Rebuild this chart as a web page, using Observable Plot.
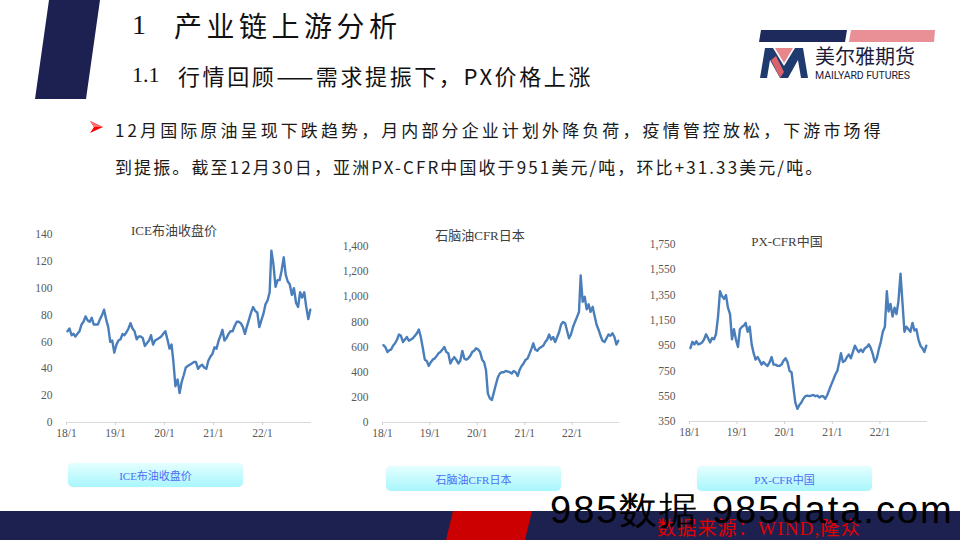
<!DOCTYPE html>
<html><head><meta charset="utf-8">
<script src="https://cdn.jsdelivr.net/npm/d3@7"></script>
<script src="https://cdn.jsdelivr.net/npm/@observablehq/plot@0.6"></script>
<style>
html,body{margin:0;padding:0;background:#fff;}
#root{position:relative;width:960px;height:540px;overflow:hidden;background:#fff;font-family:'Noto Sans CJK SC',sans-serif;}
.abs{position:absolute;white-space:nowrap;}
.chart{position:absolute;}
.ctitle{position:absolute;white-space:nowrap;transform:translate(-50%,-50%);font-family:'Liberation Serif','Noto Sans CJK SC',serif;font-size:13px;line-height:13px;color:#404040;}
.btn{position:absolute;border-radius:5px;background:linear-gradient(#e4ffff,#a8f6fc);box-shadow:0 0 1px rgba(0,0,0,0.15);display:flex;align-items:center;justify-content:center;font-family:'Liberation Serif','Noto Sans CJK SC',serif;font-size:11px;color:#4c6ef5;}
</style></head>
<body><div id="root">
<svg class="abs" style="left:0;top:0" width="960" height="540">
  <polygon points="49,0 100,0 86,99 35,99" fill="#1c2152"/>
  <polygon points="761,30 847,30 845,42 759,42" fill="#1f2a5c"/>
  <polygon points="851,30 935,30 934,42 849,42" fill="#e89096"/>
  <polygon points="760,78 765,48 773,48 784,66 795,48 803,48 808,78 801,78 798,60 788,78 780,78 770,60 767,78" fill="#1f3a6e"/>
  <polygon points="775,48 793,48 784,63" fill="#e8868c"/>
  <polygon points="771,60 776,56 784,72 780,78" fill="#d9626b"/>
  <polygon points="90,121 103,127 90,133 94,127" fill="#ff0000"/>
  <polygon points="90,121 103,127 94,127" fill="#ff7070"/>
  <rect x="0" y="511" width="960" height="29" fill="#1c2150"/>
  <polygon points="453,511 532,511 525,540 446,540" fill="#cc0000"/>
</svg>

<div class="abs" style="left:132px;top:11px;font-size:28px;line-height:28px;color:#111;font-family:'Liberation Serif','Noto Sans CJK SC',serif;">1</div>
<div class="abs" style="left:174px;top:11px;font-size:28px;line-height:28px;letter-spacing:4.5px;color:#111;">产业链上游分析</div>
<div class="abs" style="left:132px;top:64px;font-size:22px;line-height:22px;color:#111;font-family:'Liberation Serif','Noto Sans CJK SC',serif;">1.1</div>
<div class="abs" style="left:178px;top:64px;font-size:22px;line-height:22px;letter-spacing:2.6px;color:#111;">行情回顾——需求提振下，PX价格上涨</div>

<div class="abs" style="left:815px;top:46px;font-size:20px;line-height:20px;color:#1b1b3a;">美尔雅期货</div>
<div class="abs" style="left:815px;top:71px;font-size:10.5px;line-height:10.5px;color:#1b1b3a;font-family:Roboto,sans-serif;letter-spacing:-0.1px;">MAILYARD FUTURES</div>

<div class="abs" style="left:115px;top:121px;font-size:17px;line-height:17px;letter-spacing:3.1px;color:#1a1a1a;">12月国际原油呈现下跌趋势，月内部分企业计划外降负荷，疫情管控放松，下游市场得</div>
<div class="abs" style="left:115px;top:158px;font-size:17px;line-height:17px;letter-spacing:2.1px;color:#1a1a1a;">到提振。截至12月30日，亚洲PX-CFR中国收于951美元/吨，环比+31.33美元/吨。</div>

<div id="c1" class="chart" style="left:0px;top:210px;"></div>
<div id="c2" class="chart" style="left:320px;top:210px;"></div>
<div id="c3" class="chart" style="left:630px;top:210px;"></div>
<div class="ctitle" style="left:174px;top:230px;">ICE布油收盘价</div>
<div class="ctitle" style="left:480px;top:235px;">石脑油CFR日本</div>
<div class="ctitle" style="left:787px;top:241px;">PX-CFR中国</div>

<div class="btn" style="left:68px;top:463px;width:175px;height:24px;">ICE布油收盘价</div>
<div class="btn" style="left:386px;top:466px;width:175px;height:25px;">石脑油CFR日本</div>
<div class="btn" style="left:697px;top:466px;width:175px;height:25px;">PX-CFR中国</div>

<div class="abs" style="left:657px;top:519px;font-size:19px;line-height:19px;color:#e00000;font-family:'Liberation Serif','Noto Sans CJK SC',serif;letter-spacing:1.2px;">数据来源：WIND,隆众</div>
<div class="abs" style="left:550px;top:491px;font-size:38px;line-height:38px;color:#000;font-family:'Liberation Sans',sans-serif;letter-spacing:2px;">985数据 985data.com</div>
</div>
<script>
// ---- data (semi-monthly readings, 8th and 23rd of each month, 2018-2022) ----
const years = [2018, 2019, 2020, 2021, 2022];
const sampleDays = [8, 23];
const xTickLabels = ["18/1", "19/1", "20/1", "21/1", "22/1"];

const brent = [
  68,70,65,66,64,66,68,73,75,79,76,75,78,73,73,73,77,80,84,77,71,60,61,52,
  58,61,62,66,65,67,70,74,70,68,62,64,64,63,57,59,61,65,58,61,62,63,64,66,
  68,62,55,58,45,27,32,22,30,35,41,42,43,44,45,45,40,42,43,41,40,46,49,51,
  56,55,61,65,69,61,63,66,68,68,72,75,75,74,71,66,72,77,82,86,83,82,71,76,
  81,88,91,97,128,118,101,106,106,113,123,110,105,103,95,100,89,86,97,93,97,86,77,84
];
const naphtha = [
  615,600,560,575,580,610,630,660,700,690,640,660,680,650,660,670,690,710,740,680,590,500,490,450,
  480,500,510,530,550,560,580,600,560,550,470,500,520,500,470,490,570,510,500,510,530,560,570,590,
  580,560,500,480,420,230,190,180,240,300,360,390,400,400,410,405,400,390,410,400,370,420,450,470,
  500,510,550,590,630,580,570,590,600,610,640,660,700,660,680,640,680,720,780,800,790,730,670,700,
  760,800,840,880,1170,960,1000,900,940,880,920,850,780,740,690,650,640,670,700,690,710,680,620,650
];
const px = [
  930,980,960,985,960,965,975,1000,1040,1010,975,1010,1000,1040,1180,1380,1340,1320,1350,1250,1200,1000,1080,1000,
  940,1080,1100,1110,1130,1060,1100,960,890,840,860,830,800,820,800,790,820,860,800,800,790,790,800,830,
  850,820,750,740,620,500,450,480,500,530,550,555,550,555,560,550,555,540,550,550,530,560,600,640,
  680,720,750,820,890,820,830,860,880,850,900,950,920,900,920,900,930,940,960,930,880,820,850,920,
  980,1060,1100,1380,1220,1280,1180,1250,1200,1300,1520,1290,1060,1100,1080,1060,1130,1070,1080,1000,950,930,900,950
];
const brentTicks = [0, 20, 40, 60, 80, 100, 120, 140];
const naphthaTicks = [0, 200, 400, 600, 800, 1000, 1200, 1400];
const pxTicks = [350, 550, 750, 950, 1150, 1350, 1550, 1750];

const dates = years.flatMap(y => d3.range(12).flatMap(m => sampleDays.map(d => new Date(Date.UTC(y, m, d)))));
const xTickDates = years.map(y => new Date(Date.UTC(y, 0, 1)));
const xDomain = [new Date(Date.UTC(2018, 0, 1)), new Date(Date.UTC(2023, 0, 1))];
const xFmt = d => xTickLabels[xTickDates.findIndex(t => +t === +d)];

function makeChart(sel, values, yTicks, w, h, ml, mr, mt, mb) {
  const rows = values.map((v, i) => ({date: dates[i], value: v}));
  const yDomain = [yTicks[0], yTicks[yTicks.length - 1]];
  const fmt = d3.format(",");
  const p = Plot.plot({
    width: w, height: h,
    marginLeft: ml, marginRight: mr, marginTop: mt, marginBottom: mb,
    style: {fontFamily: "'Liberation Serif','Noto Sans CJK SC',serif", fontSize: "11.5px", background: "transparent", color: "#595959", overflow: "visible"},
    x: {type: "utc", domain: xDomain, label: null},
    y: {domain: yDomain, label: null},
    marks: [
      Plot.ruleY([yDomain[0]], {stroke: "#d9d9d9", strokeWidth: 1}),
      Plot.axisX(xTickDates, {tickFormat: xFmt, tickSize: 3, tickPadding: 3, stroke: "#d0d0d0", fill: "#595959", label: null}),
      Plot.axisY(yTicks, {tickFormat: fmt, tickSize: 0, tickPadding: 14, fill: "#595959", label: null}),
      Plot.line(rows, {x: "date", y: "value", stroke: "#4a7ebb", strokeWidth: 2.4, strokeLinejoin: "round"})
    ]
  });
  document.querySelector(sel).appendChild(p);
}
makeChart("#c1", brent, brentTicks, 320, 235, 66, 9, 24, 23);
makeChart("#c2", naphtha, naphthaTicks, 310, 235, 62, 11, 36, 23);
makeChart("#c3", px, pxTicks, 310, 235, 59, 13, 34, 24);
</script>
</body></html>
